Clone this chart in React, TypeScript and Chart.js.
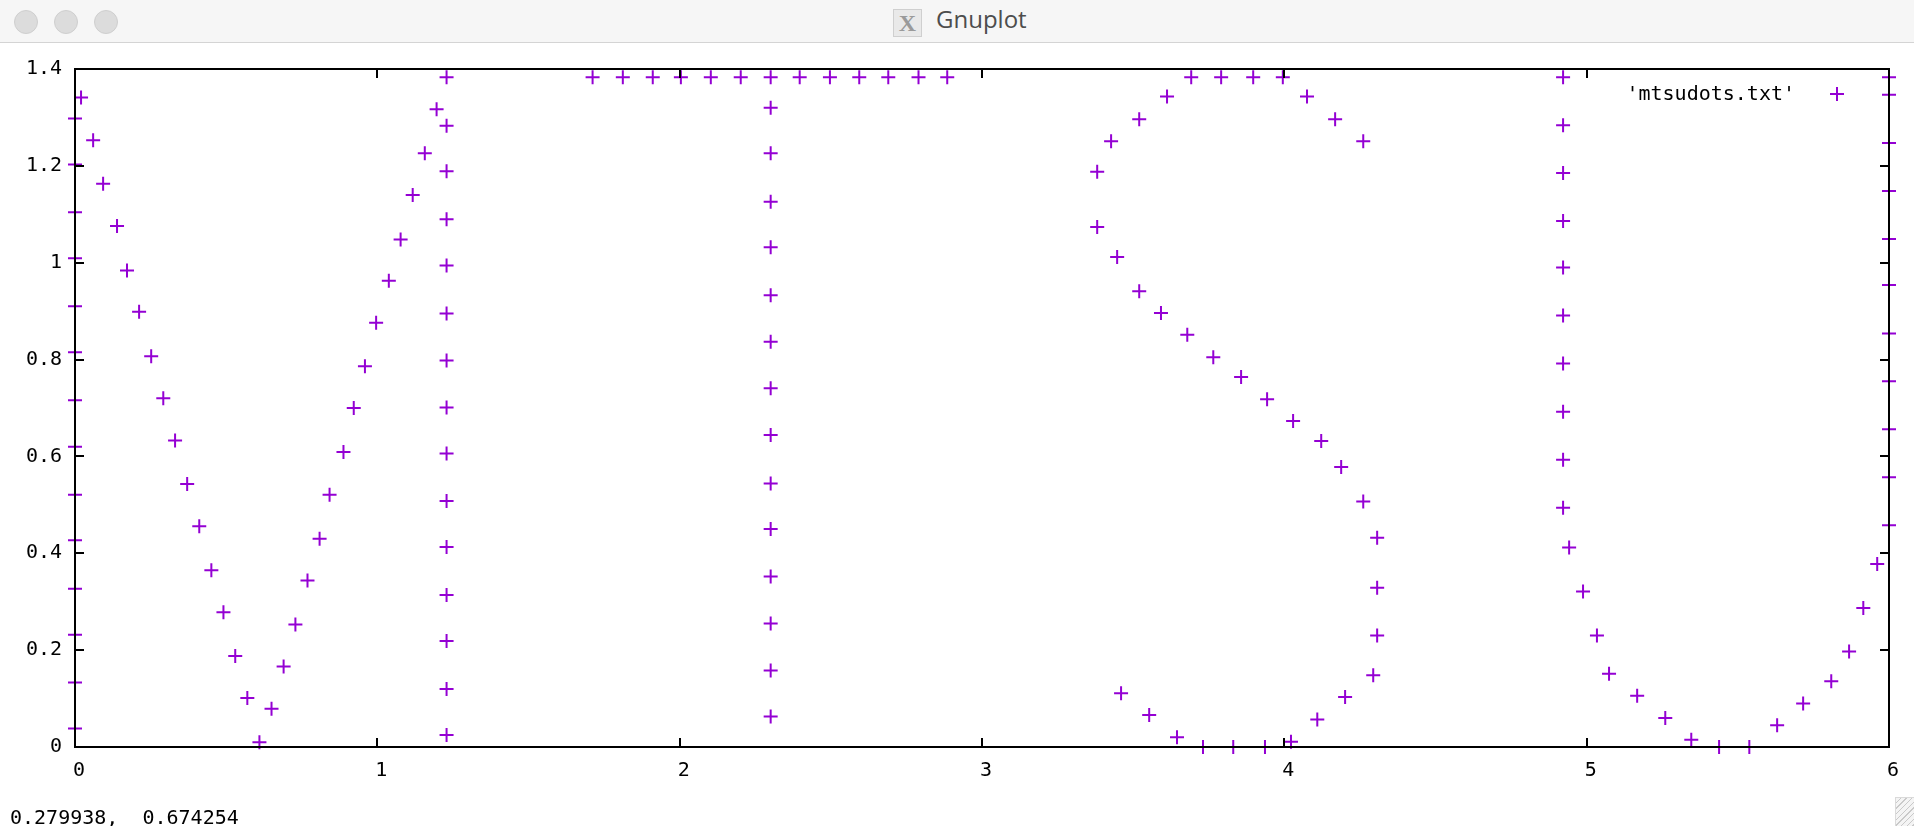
import React, { useEffect, useRef } from 'react';
import { Chart, registerables } from 'chart.js';

Chart.register(...registerables);

// ---------------- data ----------------
const seriesLabel = "'mtsudots.txt'";
const statusText = '0.279938,  0.674254';

const xTickValues = [0, 1, 2, 3, 4, 5, 6];
const xTickLabels = ['0', '1', '2', '3', '4', '5', '6'];
const yTickValues = [0, 0.2, 0.4, 0.6, 0.8, 1, 1.2, 1.4];
const yTickLabels = ['0', '0.2', '0.4', '0.6', '0.8', '1', '1.2', '1.4'];

// Letter M
const mLeftX = [0, 0, 0, 0, 0, 0, 0, 0, 0, 0, 0, 0, 0, 0];
const mLeftY = [1.298, 1.203, 1.104, 1.009, 0.91, 0.815, 0.716, 0.62, 0.521, 0.427, 0.327, 0.232, 0.133, 0.038];
const mDownX = [0.02, 0.06, 0.093, 0.139, 0.172, 0.212, 0.252, 0.292, 0.331, 0.371, 0.411, 0.451, 0.491, 0.53, 0.57, 0.61];
const mDownY = [1.341, 1.253, 1.163, 1.076, 0.984, 0.899, 0.807, 0.72, 0.633, 0.543, 0.456, 0.365, 0.278, 0.188, 0.101, 0.01];
const mUpX = [0.65, 0.69, 0.729, 0.769, 0.809, 0.842, 0.888, 0.922, 0.959, 0.996, 1.038, 1.077, 1.117, 1.157, 1.196];
const mUpY = [0.079, 0.166, 0.253, 0.344, 0.43, 0.521, 0.609, 0.7, 0.786, 0.876, 0.963, 1.048, 1.14, 1.226, 1.317];
const mRightX = [1.229, 1.229, 1.229, 1.229, 1.229, 1.229, 1.229, 1.229, 1.229, 1.229, 1.229, 1.229, 1.229, 1.229, 1.229];
const mRightY = [1.383, 1.283, 1.189, 1.09, 0.994, 0.895, 0.798, 0.701, 0.606, 0.508, 0.413, 0.314, 0.219, 0.12, 0.025];

// Letter T
const tTopX = [1.712, 1.812, 1.911, 2.004, 2.103, 2.202, 2.301, 2.397, 2.497, 2.594, 2.69, 2.79, 2.885];
const tTopY = [1.383, 1.383, 1.383, 1.383, 1.383, 1.383, 1.383, 1.383, 1.383, 1.383, 1.383, 1.383, 1.383];
const tStemX = [2.301, 2.301, 2.301, 2.301, 2.301, 2.301, 2.301, 2.301, 2.301, 2.301, 2.301, 2.301, 2.301, 2.301];
const tStemY = [1.32, 1.226, 1.126, 1.032, 0.933, 0.837, 0.741, 0.644, 0.544, 0.45, 0.352, 0.255, 0.158, 0.063];

// Letter S
const sX = [4.261, 4.168, 4.075, 3.995, 3.897, 3.791, 3.692, 3.612, 3.52, 3.427, 3.381, 3.381, 3.447, 3.52, 3.592, 3.679, 3.765, 3.857, 3.943, 4.029, 4.122, 4.188, 4.261, 4.307, 4.307, 4.307, 4.294, 4.201, 4.109, 4.022, 3.936, 3.831, 3.731, 3.645, 3.553, 3.46];
const sY = [1.251, 1.296, 1.343, 1.383, 1.383, 1.383, 1.383, 1.343, 1.296, 1.251, 1.188, 1.074, 1.012, 0.941, 0.896, 0.851, 0.805, 0.764, 0.718, 0.673, 0.632, 0.578, 0.507, 0.432, 0.329, 0.23, 0.148, 0.103, 0.057, 0.011, 0, 0, 0, 0.02, 0.066, 0.111];

// Letter U
const uX = [4.922, 4.922, 4.922, 4.922, 4.922, 4.922, 4.922, 4.922, 4.922, 4.922, 4.942, 4.988, 5.034, 5.074, 5.167, 5.26, 5.346, 5.438, 5.538, 5.63, 5.716, 5.809, 5.868, 5.915, 5.961, 6, 6, 6, 6, 6, 6, 6, 6, 6, 6, 6];
const uY = [1.383, 1.284, 1.185, 1.086, 0.99, 0.891, 0.792, 0.692, 0.593, 0.494, 0.412, 0.321, 0.23, 0.151, 0.106, 0.06, 0.015, 0, 0, 0.045, 0.09, 0.136, 0.197, 0.287, 0.378, 0.458, 0.557, 0.656, 0.755, 0.854, 0.954, 1.049, 1.148, 1.247, 1.347, 1.383];

// ---------------- styling ----------------
const PURPLE = '#9400d3';
const MONO = '"DejaVu Sans Mono", "Liberation Mono", monospace';
const FONT_SIZE = 20;
const W = 1914;
const H = 826;

const pairs = (xs: number[], ys: number[]) => xs.map((x, i) => ({ x, y: ys[i] }));

const framePlugin = {
  id: 'gnuplotFrame',
  afterDatasetsDraw(chart: any) {
    const { ctx, chartArea } = chart;
    const { left, top, right, bottom } = chartArea;
    const xs = chart.scales.x;
    const ys = chart.scales.y;
    const tl = 9;
    ctx.save();
    ctx.strokeStyle = '#000';
    ctx.lineWidth = 2;
    ctx.beginPath();
    xs.ticks.forEach((t: any) => {
      const px = Math.round(xs.getPixelForValue(t.value));
      ctx.moveTo(px, bottom);
      ctx.lineTo(px, bottom - tl);
      ctx.moveTo(px, top);
      ctx.lineTo(px, top + tl);
    });
    ys.ticks.forEach((t: any) => {
      const py = Math.round(ys.getPixelForValue(t.value));
      ctx.moveTo(left, py);
      ctx.lineTo(left + tl, py);
      ctx.moveTo(right, py);
      ctx.lineTo(right - tl, py);
    });
    ctx.stroke();
    ctx.strokeRect(left, top, right - left, bottom - top);

    // key (legend) in the top-right corner, gnuplot style: text then sample
    const label = chart.data.datasets[0].label;
    ctx.font = FONT_SIZE + 'px ' + MONO;
    ctx.fillStyle = '#000';
    ctx.textAlign = 'right';
    ctx.textBaseline = 'alphabetic';
    ctx.fillText(label, right - 94, top + 31);
    const cx = right - 52;
    const cy = top + 25;
    ctx.strokeStyle = PURPLE;
    ctx.lineWidth = 2;
    ctx.beginPath();
    ctx.moveTo(cx - 7, cy);
    ctx.lineTo(cx + 7, cy);
    ctx.moveTo(cx, cy - 7);
    ctx.lineTo(cx, cy + 7);
    ctx.stroke();
    ctx.restore();
  },
};

function GnuplotChart() {
  const ref = useRef<HTMLCanvasElement | null>(null);
  useEffect(() => {
    if (!ref.current) return;
    const data = [
      ...pairs(mLeftX, mLeftY),
      ...pairs(mDownX, mDownY),
      ...pairs(mUpX, mUpY),
      ...pairs(mRightX, mRightY),
      ...pairs(tTopX, tTopY),
      ...pairs(tStemX, tStemY),
      ...pairs(sX, sY),
      ...pairs(uX, uY),
    ];
    const chart = new Chart(ref.current, {
      type: 'scatter',
      data: {
        datasets: [
          {
            label: seriesLabel,
            data,
            pointStyle: 'cross',
            pointRadius: 7,
            pointHoverRadius: 7,
            pointBorderWidth: 2,
            borderColor: PURPLE,
            backgroundColor: PURPLE,
            showLine: false,
            clip: false as any,
          },
        ],
      },
      options: {
        responsive: false,
        animation: false,
        events: [],
        layout: { padding: { top: 69, right: 25, left: 0, bottom: 0 } },
        plugins: {
          legend: { display: false },
          tooltip: { enabled: false },
        },
        scales: {
          x: {
            type: 'linear',
            min: 0,
            max: 6,
            afterBuildTicks: (s: any) => {
              s.ticks = xTickValues.map((v) => ({ value: v }));
            },
            afterFit: (s: any) => {
              s.height = 79;
              s.paddingLeft = 0;
              s.paddingRight = 0;
            },
            grid: { display: false, drawTicks: false },
            border: { display: false },
            ticks: {
              color: '#000',
              font: { family: MONO, size: FONT_SIZE },
              padding: 12,
              labelOffset: 4,
              maxRotation: 0,
              autoSkip: false,
              callback: (_v: any, i: number) => xTickLabels[i],
            },
          },
          y: {
            type: 'linear',
            min: 0,
            max: 1.4,
            afterBuildTicks: (s: any) => {
              s.ticks = yTickValues.map((v) => ({ value: v }));
            },
            afterFit: (s: any) => {
              s.width = 75;
              s.paddingTop = 0;
              s.paddingBottom = 0;
            },
            grid: { display: false, drawTicks: false },
            border: { display: false },
            ticks: {
              color: '#000',
              font: { family: MONO, size: FONT_SIZE },
              padding: 13,
              autoSkip: false,
              callback: (_v: any, i: number) => yTickLabels[i],
            },
          },
        },
      },
      plugins: [framePlugin],
    });
    return () => chart.destroy();
  }, []);
  return <canvas ref={ref} width={W} height={H} style={{ position: 'absolute', left: 0, top: 0, width: W, height: H }} />;
}

function TrafficLight({ cx }: { cx: number }) {
  return (
    <div
      style={{
        position: 'absolute',
        left: cx - 12,
        top: 10,
        width: 22,
        height: 22,
        borderRadius: '50%',
        background: '#dcdcdc',
        border: '1px solid #cfcfcf',
      }}
    />
  );
}

export default function App() {
  return (
    <div style={{ position: 'fixed', left: 0, top: 0, width: W, height: H, background: '#fff', overflow: 'hidden' }}>
      <GnuplotChart />
      <div
        style={{
          position: 'absolute',
          left: 0,
          top: 0,
          width: W,
          height: 42,
          background: '#f6f6f6',
          borderBottom: '1px solid #d4d4d4',
          zIndex: 2,
        }}
      >
        <TrafficLight cx={26} />
        <TrafficLight cx={66} />
        <TrafficLight cx={106} />
        <div
          style={{
            position: 'absolute',
            left: 893,
            top: 9,
            width: 27,
            height: 26,
            border: '1px solid #cfcfcf',
            background: '#e9e9e9',
            color: '#9a9a9a',
            font: 'bold 24px "Liberation Serif", serif',
            lineHeight: '26px',
            textAlign: 'center',
          }}
        >
          X
        </div>
        <div
          style={{
            position: 'absolute',
            left: 936,
            top: 2,
            height: 42,
            lineHeight: '42px',
            font: '24px "Open Sans", sans-serif',
            color: '#4d4d4d',
            whiteSpace: 'nowrap',
          }}
        >
          Gnuplot
        </div>
      </div>
      <div
        style={{
          position: 'absolute',
          left: 10,
          top: 805,
          lineHeight: '24px',
          font: FONT_SIZE + 'px ' + MONO,
          color: '#000',
          whiteSpace: 'pre',
          zIndex: 2,
        }}
      >
        {statusText}
      </div>
      <div
        style={{
          position: 'absolute',
          left: 1895,
          top: 797,
          width: 19,
          height: 29,
          borderLeft: '1px solid #dadada',
          borderTop: '1px solid #dadada',
          background: 'repeating-linear-gradient(135deg, #f4f4f4 0px, #f4f4f4 3px, #c9c9c9 3px, #c9c9c9 4px)',
          zIndex: 2,
        }}
      />
    </div>
  );
}
